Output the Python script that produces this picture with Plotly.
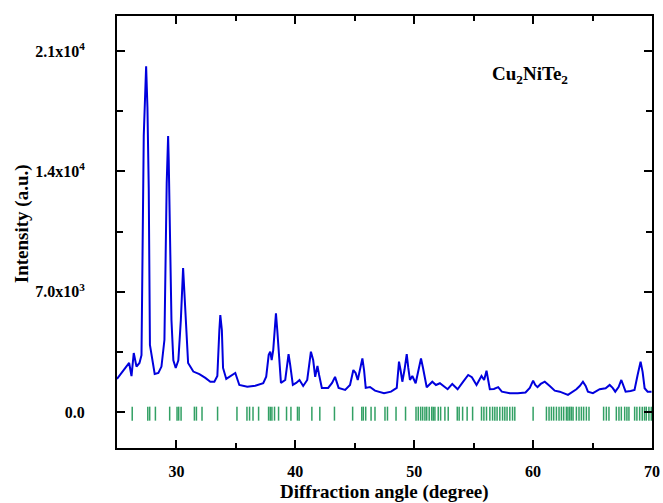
import plotly.graph_objects as go

# Diffraction angle (degree) and intensity (a.u.)
two_theta = [25.0, 26.02, 26.22, 26.41, 26.64, 26.89, 27.06, 27.25, 27.45, 27.56, 27.67, 27.77,
             28.17, 28.48, 28.74, 28.99, 29.18, 29.30, 29.35, 29.47, 29.58, 29.74, 29.94, 30.16,
             30.37, 30.56, 30.67, 30.75, 30.98, 31.42, 31.93, 32.43, 32.85, 33.19, 33.44, 33.61,
             33.69, 33.82, 33.92, 34.19, 34.61, 34.95, 35.29, 35.96, 36.63, 37.30, 37.55, 37.76,
             37.89, 38.01, 38.14, 38.37, 38.48, 38.60, 38.79, 39.15, 39.43, 39.57, 39.79, 40.07,
             40.35, 40.66, 41.00, 41.31, 41.50, 41.67, 41.86, 42.00, 42.23, 42.76, 43.09, 43.34,
             43.64, 44.19, 44.60, 44.88, 45.07, 45.25, 45.44, 45.64, 45.78, 45.92, 46.28, 46.70,
             47.46, 48.05, 48.53, 48.72, 48.85, 49.00, 49.18, 49.37, 49.50, 49.64, 49.84, 50.12,
             50.36, 50.57, 50.74, 51.05, 51.52, 51.83, 52.16, 52.81, 53.20, 53.65, 54.12, 54.54,
             54.85, 55.24, 55.66, 55.88, 56.08, 56.23, 56.36, 56.70, 57.06, 57.37, 58.04, 58.71,
             59.36, 59.72, 60.00, 60.18, 60.37, 60.64, 60.98, 61.40, 61.82, 62.24, 62.93, 63.64,
             63.92, 64.19, 64.42, 64.61, 65.03, 65.60, 66.10, 66.44, 66.69, 66.91, 67.19, 67.42,
             67.61, 67.78, 68.20, 68.53, 68.79, 69.04, 69.21, 69.38, 69.63, 69.96]
intensity = [1920, 2850, 2090, 3430, 2640, 2850, 3300, 16060, 20130, 17740, 13030, 3900,
             2210, 2270, 2640, 4200, 13320, 16060, 14660, 10470, 5350, 3000, 2560, 3000,
             5350, 8380, 7100, 5830, 2850, 2350, 2200, 1980, 1760, 1760, 2090, 4770,
             5640, 4770, 2560, 1920, 2090, 2270, 1570, 1470, 1530, 1670, 2050, 3320,
             3510, 3020, 3600, 5740, 4770, 3600, 1690, 1860, 3370, 2730, 1570, 1690,
             1860, 1510, 1860, 3510, 3020, 2040, 2680, 2150, 1400, 1400, 1690, 2040,
             1400, 1280, 1570, 2440, 2270, 1860, 2440, 3120, 2440, 1400, 1450, 1240,
             1090, 1180, 1400, 2930, 2440, 1760, 2440, 3370, 2560, 1860, 2090, 1670,
             2440, 3120, 2560, 1440, 1760, 1570, 1670, 1320, 1630, 1320, 1760, 2150,
             2020, 1570, 2090, 1860, 2400, 1860, 1320, 1340, 1440, 1180, 1090, 1090,
             1130, 1400, 1820, 1570, 1440, 1630, 1760, 1510, 1240, 1180, 990, 1320,
             1510, 1760, 1510, 1180, 1090, 1320, 1380, 1570, 1400, 1180, 1450, 1860,
             1510, 1180, 1220, 1280, 2150, 2930, 2330, 1380, 1180, 1180]

# Bragg reflection positions (green tick marks)
bragg_positions = [26.28, 27.59, 27.75, 28.23, 29.43, 30.05, 30.19, 30.39, 31.51, 31.68, 32.15,
                   33.46, 35.09, 35.93, 36.15, 36.44, 36.91, 37.75, 37.89, 38.03, 38.25, 38.59,
                   39.26, 39.63, 40.18, 40.32, 41.39, 42.06, 43.29, 44.82, 45.59, 45.72, 45.92,
                   46.37, 46.70, 47.54, 47.75, 48.47, 49.27, 50.15, 50.34, 50.54, 50.71, 50.90,
                   51.05, 51.26, 51.47, 51.60, 51.74, 52.02, 52.22, 52.58, 52.86, 53.62, 53.78,
                   54.07, 54.45, 54.91, 55.66, 55.86, 56.08, 56.36, 56.59, 56.78, 56.97, 57.20,
                   57.43, 57.62, 57.81, 58.04, 58.27, 58.46, 60.00, 61.12, 61.34, 61.54, 61.73,
                   61.96, 62.18, 62.38, 62.57, 62.80, 62.93, 63.08, 63.22, 63.36, 63.64, 63.86,
                   64.06, 64.25, 64.48, 64.70, 65.93, 66.16, 66.38, 67.00, 67.22, 67.42, 67.70,
                   67.89, 68.06, 68.54, 68.73, 68.96, 69.18, 69.37, 69.52, 69.74, 69.94]
bragg_level = [-100] * len(bragg_positions)

y_tickvals = [0, 7000, 14000, 21000]
y_ticktext = ["0.0", "7.0x10<sup>3</sup>", "1.4x10<sup>4</sup>", "2.1x10<sup>4</sup>"]
x_tickvals = [30, 40, 50, 60, 70]
x_ticktext = ["30", "40", "50", "60", "70"]

FONT = "Liberation Serif, Times New Roman, serif"

fig = go.Figure()
fig.add_trace(go.Scatter(x=two_theta, y=intensity, mode="lines",
                         line=dict(color="#0000dd", width=2), showlegend=False))
fig.add_trace(go.Scatter(x=bragg_positions, y=bragg_level, mode="markers",
                         marker=dict(symbol="line-ns", size=10,
                                     line=dict(color="rgb(50,160,100)", width=1.5)),
                         showlegend=False))

axis_common = dict(showline=True, linecolor="black", linewidth=2, mirror="ticks",
                   ticks="inside", ticklen=8, tickwidth=1.5, tickcolor="black",
                   showgrid=False, zeroline=False, automargin=False,
                   tickfont=dict(family=FONT, size=16, color="black", weight="bold"))

fig.update_xaxes(range=[25, 70], tickvals=x_tickvals, ticktext=x_ticktext,
                 ticklabelstandoff=8,
                 minor=dict(ticks="inside", ticklen=5, tickwidth=1.5, tickcolor="black",
                            dtick=5, tick0=0, showgrid=False),
                 **axis_common)
fig.update_yaxes(range=[-2100, 23050], tickvals=y_tickvals, ticktext=y_ticktext,
                 ticklabelstandoff=27,
                 minor=dict(ticks="inside", ticklen=6, tickwidth=1.5, tickcolor="black",
                            dtick=3500, tick0=0, showgrid=False),
                 **axis_common)

fig.add_annotation(text="Cu<sub>2</sub>NiTe<sub>2</sub>", xref="paper", yref="paper",
                   x=0.772, y=0.863, xanchor="center", yanchor="middle", showarrow=False,
                   font=dict(family=FONT, size=19, color="black", weight="bold"))
fig.add_annotation(text="Diffraction angle (degree)", xref="paper", yref="paper",
                   x=0.5, y=-0.102, xanchor="center", yanchor="middle", showarrow=False,
                   font=dict(family=FONT, size=19, color="black", weight="bold"))
fig.add_annotation(text="Intensity (a.u.)", xref="paper", yref="paper",
                   x=-0.176, y=0.52, xanchor="center", yanchor="middle", textangle=-90,
                   showarrow=False,
                   font=dict(family=FONT, size=19, color="black", weight="bold"))

fig.update_layout(width=663, height=503,
                  margin=dict(l=117, r=11, t=16, b=55),
                  plot_bgcolor="white", paper_bgcolor="white")

fig.write_html("out.html", config={"displayModeBar": False},
               post_script="document.body.style.margin='0';document.body.style.overflow='hidden';")
